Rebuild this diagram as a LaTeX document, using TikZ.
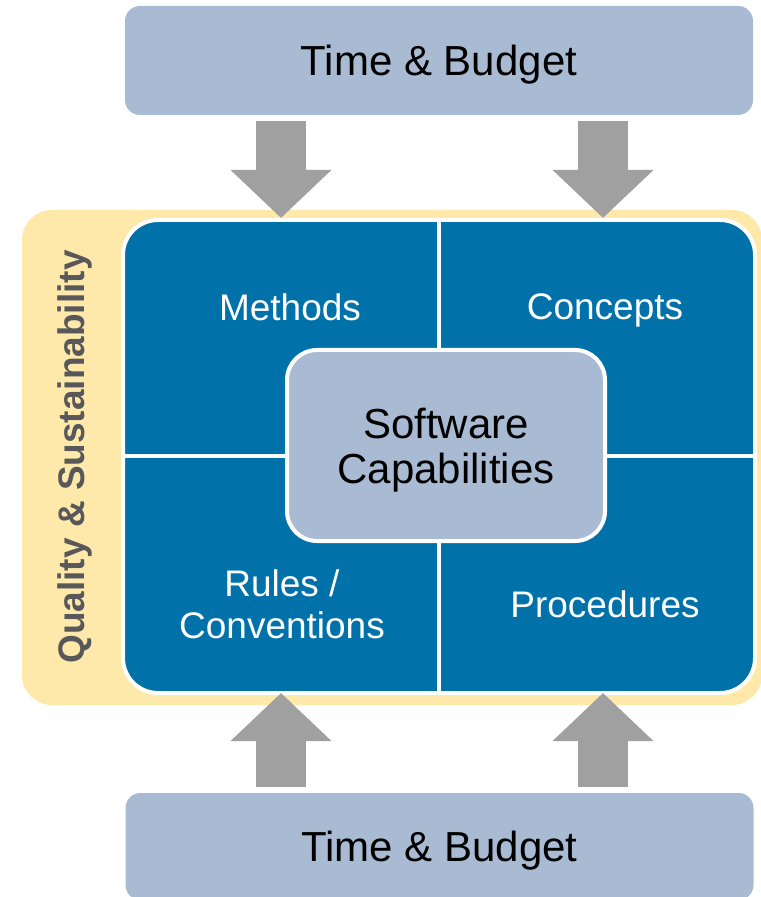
\documentclass[tikz,border=0pt]{standalone}
\usepackage{fontspec}
\setmainfont{Liberation Sans}
\usetikzlibrary{arrows.meta}
\definecolor{budgetblue}{RGB}{169,187,211}
\definecolor{corpblue}{RGB}{0,113,169}
\definecolor{qualyellow}{RGB}{254,233,170}
\definecolor{arrowgray}{RGB}{160,160,160}
\definecolor{labelgray}{RGB}{88,88,90}
\begin{document}
\begin{tikzpicture}[x=0.5pt,y=-0.5pt,
    budget/.style ={rounded corners=7.5pt, fill=budgetblue, inner sep=0pt, outer sep=0pt,
      minimum width=314pt, text depth=0pt, font=\fontsize{21}{23}\selectfont},
    quadrant/.style ={text=white, align=center, font=\fontsize{18.5}{21}\selectfont},
    divider/.style ={white, line width=2pt},
    bigarrow/.style ={arrowgray, line width=25pt, -{Triangle[width=49pt,length=24pt]}}]
   \useasboundingbox (0,0) rectangle (760,897);

   \node[budget, minimum height=54.5pt] (top) at (439,60.5) {Time \& Budget};
   \node[budget, minimum height=53.5pt] (bottom) at (439.5,846.5) {Time \& Budget};

   \node[fill=qualyellow, rounded corners=15pt, minimum width=370pt, minimum height=247.5pt,
     inner sep=0pt, outer sep=0pt] (quality) at (392,457.5) {};
   \node[rotate=90, text=labelgray, font=\bfseries\fontsize{18.5}{21}\selectfont] (qlabel)
     at (75,457) {Quality \& Sustainability};

   \node[fill=corpblue, draw=white, line width=2pt, rounded corners=17.5pt, minimum width=316pt,
     minimum height=236.5pt, inner sep=0pt, outer sep=0pt] (frame) at (439,456.5) {};
   \coordinate (mid) at (439,456);
   \draw[divider] (frame.north -| mid) to (frame.south -| mid);
   \draw[divider] (frame.west |- mid) to (frame.east |- mid);

   \node[quadrant] (A) at (290,307) {Methods};
   \node[quadrant] (B) at (605,310) {Concepts};
   \node[quadrant] (C) at (282,604) {Rules /\\Conventions};
   \node[quadrant] (D) at (605,604) {Procedures};

   \node[fill=budgetblue, draw=white, line width=2pt, rounded corners=15pt, minimum width=159pt,
     minimum height=95.5pt, align=center, inner sep=0pt, outer sep=0pt, text depth=0pt,
     font=\fontsize{21}{22.5}\selectfont] (core) at (446,445.5) {Software\\Capabilities};

   \coordinate (lcol) at (281,0);
   \coordinate (rcol) at (603,0);
   \draw[bigarrow, shorten <=3pt, shorten >=1pt] (top.south -| lcol) to (frame.north -| lcol);
   \draw[bigarrow, shorten <=3pt, shorten >=1pt] (top.south -| rcol) to (frame.north -| rcol);
   \draw[bigarrow, shorten <=3pt] (bottom.north -| lcol) to (frame.south -| lcol);
   \draw[bigarrow, shorten <=3pt] (bottom.north -| rcol) to (frame.south -| rcol);
 \end{tikzpicture}
\end{document}
